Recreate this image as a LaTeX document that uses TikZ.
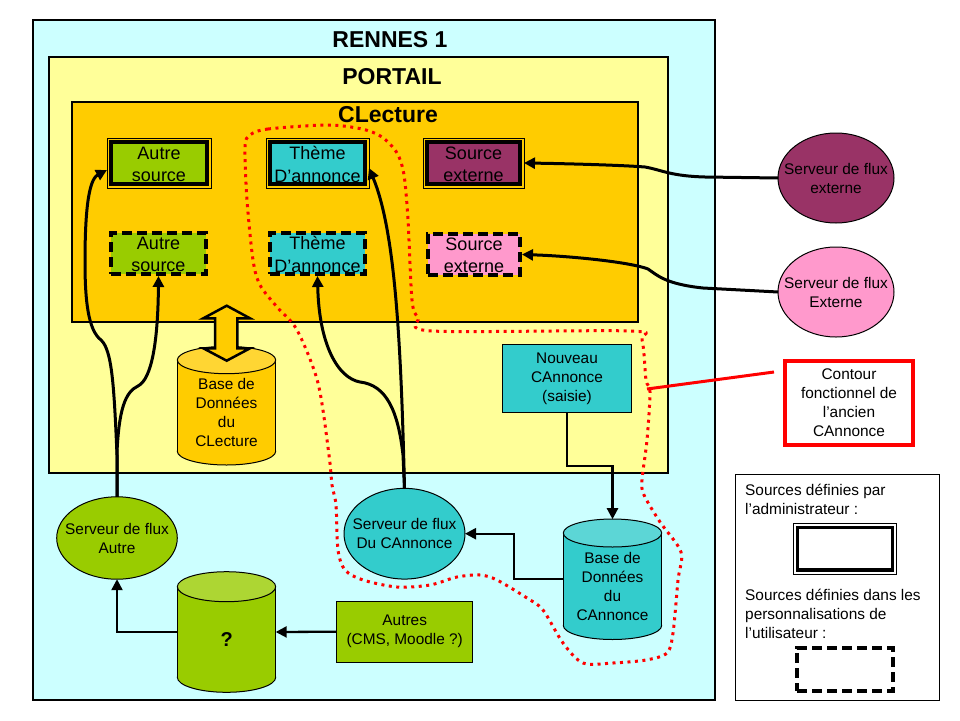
\documentclass[tikz,border=0pt]{standalone}
\usepackage{fontspec}
\setmainfont{Liberation Sans}
\usetikzlibrary{arrows.meta,shapes.geometric,calc}
\definecolor{cyanbg}{HTML}{CCFFFF}
\definecolor{yellowbg}{HTML}{FFFF99}
\definecolor{orangebg}{HTML}{FFCC00}
\definecolor{orangetop}{HTML}{FFD633}
\definecolor{greenc}{HTML}{99CC00}
\definecolor{greentop}{HTML}{ADD633}
\definecolor{tealc}{HTML}{33CCCC}
\definecolor{tealtop}{HTML}{5CD6D6}
\definecolor{purplec}{HTML}{993366}
\definecolor{pinkc}{HTML}{FF99CC}
\definecolor{redc}{HTML}{FF0000}
\tikzset{
 thinl/.style={line width=1pt},
 region/.style={draw, line width=1.2pt, inner sep=0pt, outer sep=0pt},
 title/.style={font=\fontsize{23}{27}\selectfont\bfseries, inner sep=0pt},
 boxtxt/.style={font=\fontsize{18}{22.5}\selectfont, align=center, inner sep=0pt},
 smalltxt/.style={font=\fontsize{15.4}{19}\selectfont, align=center, inner sep=0pt},
 admbox/.style={draw, line width=3.5pt, inner sep=0pt, outer sep=0pt},
 usrbox/.style={draw, line width=4pt, dash pattern=on 10pt off 5pt, inner sep=0pt, outer sep=0pt},
 plainbox/.style={draw, thinl, smalltxt, outer sep=0pt},
 srv/.style={ellipse, draw, thinl, inner sep=0pt, outer sep=0pt},
 cylnode/.style={inner sep=0pt, outer sep=0pt, minimum width=98.4pt},
 flow/.style={line width=3pt, -{Triangle[length=11pt,width=11pt]}},
 elbow/.style={line width=2.3pt, -{Triangle[length=11pt,width=11pt]}},
 contour/.style={draw=redc, line width=3pt, dash pattern=on 3pt off 4.5pt},
}
\newcommand\admframe[1]{\draw[thinl] ([shift={(-4,-4)}]#1.north west) rectangle ([shift={(4,4)}]#1.south east);}
\newcommand\cyl[7]{%
 \filldraw[fill=#6, draw=black, thinl] (#1,#3) ellipse[x radius=#4, y radius=#5];
 \fill[#6] (#1-#4,#2) rectangle (#1+#4,#3);
 \draw[thinl] (#1-#4,#2) -- (#1-#4,#3) (#1+#4,#2) -- (#1+#4,#3);
 \filldraw[fill=#7, draw=black, thinl] (#1,#2) ellipse[x radius=#4, y radius=#5];}
\begin{document}
\begin{tikzpicture}[x=1pt,y=-1pt]
\fill[white] (0,0) rectangle (960,720);
\useasboundingbox (0,0) rectangle (960,720);
% regions
\node[region, fill=cyanbg, minimum width=682pt, minimum height=680pt] (rennes) at (374,360) {};
\node[region, fill=yellowbg, minimum width=619pt, minimum height=416pt] (portail) at (358.5,265) {};
\node[region, fill=orangebg, minimum width=566pt, minimum height=220pt] (clecture) at (355,212) {};
\node[title] (trennes) at (390,39.5) {RENNES 1};
\node[title] (tportail) at (392,76.7) {PORTAIL};
\node[title] (tclecture) at (388,115) {CLecture};
% source boxes
\node[admbox, fill=greenc, minimum width=96pt, minimum height=42pt, label={[boxtxt, yshift=-1.5pt]center:{Autre\\source}}] (as1) at (159,163) {};
\node[admbox, fill=tealc, minimum width=95pt, minimum height=42pt, label={[boxtxt, yshift=-1.5pt]center:{Thème\\D’annonce}}] (ts1) at (317.5,163) {};
\node[admbox, fill=purplec, minimum width=93pt, minimum height=42pt, label={[boxtxt, yshift=-1.5pt]center:{Source\\externe}}] (sx1) at (473.5,163) {};
\admframe{as1}\admframe{ts1}\admframe{sx1}
\node[usrbox, fill=greenc, minimum width=95pt, minimum height=41pt, label={[boxtxt, yshift=-1pt]center:{Autre\\source}}] (as2) at (158.5,253.5) {};
\node[usrbox, fill=tealc, minimum width=95pt, minimum height=41pt, label={[boxtxt, yshift=-1pt]center:{Thème\\D’annonce}}] (td) at (317.5,253.5) {};
\node[usrbox, fill=pinkc, minimum width=92pt, minimum height=41pt, label={[boxtxt, yshift=-1pt]center:{Source\\externe}}] (sx2) at (474,254.5) {};
% CLecture database
\cyl{226.5}{360}{451.3}{49.2}{13.7}{orangebg}{orangetop}
\node[cylnode, minimum height=118.3pt] (dbl) at (226.5,405.9) {};
\node[smalltxt] (dbltxt) at (226.5,412) {Base de\\Données\\du\\CLecture};
\draw[line width=2.5pt, fill=orangebg, line join=miter] (226.7,305.7) -- (250,318.3) -- (237.3,318.3) -- (237.3,348.3) -- (250,348.3) -- (226.7,360.7) -- (203.3,348.3) -- (215,348.3) -- (215,318.3) -- (203.3,318.3) -- cycle;
% Nouveau CAnnonce
\node[plainbox, fill=tealc, minimum width=129.4pt, minimum height=68pt] (nc) at (567,378.3) {Nouveau\\CAnnonce\\(saisie)};
% servers
\node[srv, fill=greenc, minimum width=120.6pt, minimum height=82.4pt, label={[smalltxt]center:{Serveur de flux\\Autre}}] (sa) at (117,538) {};
\node[srv, fill=tealc, minimum width=121pt, minimum height=90.7pt, label={[smalltxt]center:{Serveur de flux\\Du CAnnonce}}] (sc) at (404.5,533.7) {};
\node[srv, fill=purplec, minimum width=116pt, minimum height=90pt, label={[smalltxt]center:{Serveur de flux\\externe}}] (ee) at (836,178) {};
\node[srv, fill=pinkc, minimum width=116pt, minimum height=90pt, label={[smalltxt]center:{Serveur de flux\\Externe}}] (ep) at (836,292) {};
% ? database
\cyl{226.5}{586.7}{677.3}{49.2}{15}{greenc}{greentop}
\node[cylnode, minimum height=120.6pt] (qdb) at (226.5,632) {};
\node[font=\fontsize{20}{24}\selectfont\bfseries, inner sep=0pt] (qtxt) at (226.7,640) {?};
% CAnnonce database
\cyl{612.5}{533}{625.5}{49.2}{14}{tealc}{tealtop}
\node[cylnode, minimum height=120.2pt] (dbc) at (612.5,579.3) {};
\node[smalltxt] (dbctxt) at (612.5,586.6) {Base de\\Données\\du\\CAnnonce};
% Autres
\node[plainbox, fill=greenc, minimum width=136pt, minimum height=61.3pt] (au) at (404.7,631.7) {Autres\\(CMS, Moodle ?)};
% connectors
\draw[flow] (sa.north) -- (117,455) .. controls (114,385) and (112,350) .. (101,340) .. controls (88,330) and (85,300) .. (85,262) .. controls (85,215) and (88,180) .. ([shift={(-4,7)}]as1.west);
\draw[flow] (sa.north) -- (117,452) .. controls (119,410) and (125,392) .. (138,386) .. controls (152,379) and (158,340) .. ([shift={(0,2)}]as2.south);
\draw[flow] (sc.north) .. controls (401,340) and (395,230) .. ([shift={(4,5)}]ts1.east);
\draw[flow] (sc.north) -- (403,455) .. controls (398,410) and (386,385) .. (360,382) .. controls (338,378) and (319,345) .. ([shift={(0,2)}]td.south);
\draw[flow] (ee.west) -- (705,177) .. controls (670,176) and (662,170) .. (645,167) .. controls (620,165) and (560,163.5) .. ([shift={(4,0)}]sx1.east);
\draw[flow] (ep.west) -- (703,288) .. controls (665,284) and (657,275) .. (648,269) .. controls (630,262) and (570,256) .. ([shift={(2,0)}]sx2.east);
\draw[elbow] (au.west) -- (qdb.east);
\draw[elbow] (qdb.west) -| (sa.south);
\draw[elbow] (dbc.west) -- (514,579.3) |- (sc.east);
\draw[elbow] (nc.south) -- ++(0,53.4) -| (dbc.north);
% contour
\draw[contour] plot[smooth cycle, tension=0.5] coordinates {(250,135) (268,129) (327,125) (362,129) (382,137) (397,153) (404,175) (408,220) (412,300) (418,318) (432,331) (630,331) (642,340) (646,380) (650,392) (647,440) (642,480) (644,495) (660,522) (681,552) (678,580) (673,633) (667,653) (646,660) (613,663) (583,663) (563,643) (543,610) (527,598) (497,580) (480,575) (457,577) (430,585) (397,587) (363,580) (345,570) (338,550) (336,505) (332,485) (329,455) (318,383) (297,330) (277,307) (260,285) (253,260) (247,200) (245,147)};
\node[draw=redc, line width=4pt, smalltxt, fill=white, minimum width=128.6pt, minimum height=84pt] (cb) at (849,403) {Contour\\fonctionnel de\\l’ancien\\CAnnonce};
\coordinate (cpt) at (647,389);
\coordinate (cend) at (774,372);
\draw[redc, line width=3pt] (cpt) -- (cend);
% legend
\node[draw, thinl, fill=white, minimum width=203.6pt, minimum height=226pt, inner sep=0pt] (leg) at (837.5,587) {};
\node[smalltxt, align=left, anchor=west] (l1) at (745,499.5) {Sources définies par\\l’administrateur :};
\node[admbox, fill=white, minimum width=95.4pt, minimum height=42.7pt] (lb1) at (845,548.7) {};
\admframe{lb1}
\node[smalltxt, align=left, anchor=west] (l2) at (745,614) {Sources définies dans les\\personnalisations de\\l’utilisateur :};
\node[usrbox, fill=white, minimum width=96pt, minimum height=42.7pt] (lb2) at (845,669.3) {};
\end{tikzpicture}
\end{document}
